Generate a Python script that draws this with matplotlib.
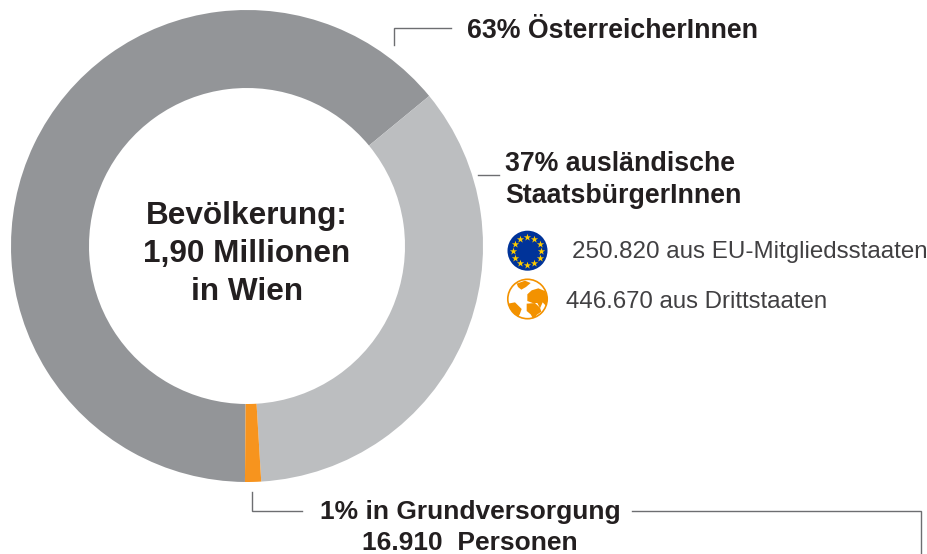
import matplotlib
matplotlib.use("Agg")
import matplotlib.pyplot as plt
import numpy as np
from matplotlib.patches import Circle, Polygon

plt.rcParams["font.family"] = ["Liberation Sans", "DejaVu Sans"]

# shares (degrees of the drawing, in percent)
names = ["Österreicher", "Ausländisch", "Grundversorgung"]
shares = [63.9, 35.0, 1.1]
colors = ["#939598", "#bcbec0", "#f7941e"]
center_lines = ["Bevölkerung:", "1,90 Millionen", "in Wien"]
dark = "#231f20"
grey = "#414042"
line_col = "#6d6e71"
orange = "#f39200"


def py(y):
    # picture y (from top) to axes y
    return 554 - y


fig = plt.figure(figsize=(9.28, 5.54), dpi=100)
ax = fig.add_axes([0, 0, 1, 1])

ax.pie(shares, colors=colors, startangle=269.5, counterclock=False,
       center=(247, py(246)), radius=236, frame=True,
       wedgeprops={"width": 78, "linewidth": 0})
ax.set_xlim(0, 928)
ax.set_ylim(0, 554)
ax.set_aspect("equal")
ax.axis("off")

# center text
for txt, y in zip(center_lines, [224, 262, 300]):
    ax.text(247, py(y), txt, fontsize=22.7, fontweight="bold", color=dark,
            ha="center", va="baseline")

# labels
ax.text(467, py(38), "63% ÖsterreicherInnen", fontsize=19.3, fontweight="bold", color=dark, va="baseline")
ax.text(505, py(171), "37% ausländische", fontsize=19.3, fontweight="bold", color=dark, va="baseline")
ax.text(505, py(203), "StaatsbürgerInnen", fontsize=19.3, fontweight="bold", color=dark, va="baseline")
ax.text(320, py(519), "1% in Grundversorgung", fontsize=19.0, fontweight="bold", color=dark, va="baseline")
ax.text(470, py(550), "16.910  Personen", fontsize=19.0, fontweight="bold", color=dark, ha="center", va="baseline")
ax.text(572, py(258), "250.820 aus EU-Mitgliedsstaaten", fontsize=17.4, color=grey, va="baseline")
ax.text(566, py(308), "446.670 aus Drittstaaten", fontsize=17.3, color=grey, va="baseline")

# leader lines
leaders = [
    ([394, 394, 451], [45, 28, 28]),
    ([478, 499], [175, 175]),
    ([252.5, 252.5, 302], [492, 511, 511]),
    ([632, 921, 921], [511, 511, 554]),
]
for xs, ys in leaders:
    ax.plot(xs, [py(v) for v in ys], color=line_col, lw=1.0, solid_joinstyle="miter")

# EU flag icon
ex, ey = 527.5, 250.7
ax.add_patch(Circle((ex, py(ey)), 20, fc="#003399", ec="none"))
a = np.deg2rad(np.arange(0, 360, 30))
ax.scatter(ex + 14 * np.cos(a), py(ey) + 14 * np.sin(a), marker="*", s=30, c="#ffcc00", linewidths=0)

# globe icon
gx, gy = 527.5, 299
ring = Circle((gx, py(gy)), 19.7, fc="white", ec=orange, lw=1.2)
ax.add_patch(ring)
land = [
    [(112, 238), (125, 226), (145, 220), (165, 228), (176, 255), (170, 275), (158, 262),
     (150, 280), (142, 264), (128, 264), (112, 258)],
    [(110, 266), (135, 264), (150, 278), (154, 290), (140, 300), (132, 316), (122, 298), (110, 288)],
    [(54, 266), (75, 262), (95, 282), (90, 296), (82, 312), (68, 298), (56, 285)],
    [(80, 206), (105, 197), (122, 204), (108, 216), (94, 224), (84, 216)],
]
for pts in land:
    # points taken from a 3x crop of the icon
    xy = [(490 + p[0] / 3, py(215 + p[1] / 3)) for p in pts]
    poly = Polygon(xy, fc=orange, ec="none")
    ax.add_patch(poly)
    poly.set_clip_path(ring)

fig.savefig("out.png", dpi=100)
